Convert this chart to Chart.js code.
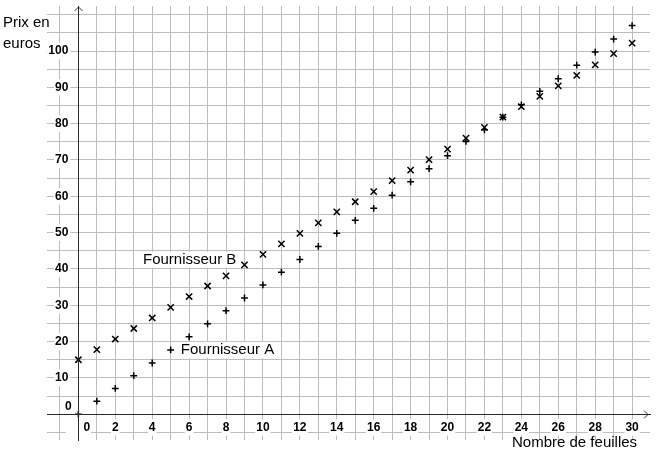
<!DOCTYPE html>
<html><head><meta charset="utf-8">
<script src="https://cdn.jsdelivr.net/npm/chart.js@4/dist/chart.umd.min.js"></script>
<style>html,body{margin:0;padding:0;background:#fff;} canvas{display:block;}</style>
</head><body>
<canvas id="c" width="660" height="456"></canvas>
<script>
const feuilles = [0,1,2,3,4,5,6,7,8,9,10,11,12,13,14,15,16,17,18,19,20,21,22,23,24,25,26,27,28,29,30];
const prixA = [0,3.6,7.1,10.6,14.1,17.7,21.3,24.9,28.5,32,35.6,39.1,42.6,46.2,49.8,53.4,56.7,60.3,64,67.6,71.2,75.1,78.3,81.8,85.2,88.9,92.4,96.1,99.7,103.3,107];
const prixB = [15,17.8,20.7,23.6,26.5,29.4,32.4,35.3,38.1,41.1,44,46.9,49.8,52.7,55.7,58.5,61.3,64.3,67.2,70.1,73,76,79,81.8,84.7,87.5,90.4,93.3,96.2,99.3,102.2];
const xTickLabels = ['0','2','4','6','8','10','12','14','16','18','20','22','24','26','28','30'];
const yTickLabels = ['0','10','20','30','40','50','60','70','80','90','100'];
const seriesNames = ['Fournisseur A','Fournisseur B'];
const xTitle = 'Nombre de feuilles';
const yTitle = ['Prix en','euros'];

const FONT = '"Liberation Sans", Arial, sans-serif';

function gridTicks(from, to, step) {
  const t = [];
  for (let v = from; v <= to; v += step) t.push({ value: v });
  return t;
}
function backdrop(ctx) {
  const t = ctx.tick;
  if (!t || Array.isArray(t.label) || !t.label) return 'rgba(255,255,255,0)';
  return '#fff';
}

const textPlugin = {
  id: 'texts',
  beforeDatasetsDraw(chart) {
    const {ctx, scales} = chart;
    ctx.save();
    ctx.font = '15px ' + FONT;
    ctx.textBaseline = 'middle';
    ctx.textAlign = 'left';
    const ann = [[seriesNames[1], 3.5, 42.5], [seriesNames[0], 5.55, 17.7]];
    ann.forEach(([t, xv, yv]) => {
      const px = scales.x.getPixelForValue(xv);
      const py = scales.y.getPixelForValue(yv);
      const w = ctx.measureText(t).width;
      ctx.fillStyle = '#fff';
      ctx.fillRect(px - 1, py - 8, w + 2, 16);
      ctx.fillStyle = '#000';
      ctx.fillText(t, px, py);
    });
    ctx.restore();
  },
  afterDraw(chart) {
    const {ctx, scales, chartArea} = chart;
    ctx.save();
    ctx.font = '15px ' + FONT;
    ctx.fillStyle = '#000';
    ctx.textBaseline = 'middle';
    ctx.textAlign = 'left';
    ctx.fillText(yTitle[0], 3, 23);
    ctx.fillText(yTitle[1], 3, 44);
    ctx.fillText(xTitle, 512, 443);
    const x0 = Math.round(scales.x.getPixelForValue(0)) + 0.5;
    const y0 = Math.round(scales.y.getPixelForValue(0)) + 0.5;
    ctx.strokeStyle = '#333';
    ctx.lineWidth = 1;
    ctx.beginPath();
    ctx.moveTo(x0 - 4, chartArea.top + 5);
    ctx.lineTo(x0, chartArea.top + 1);
    ctx.lineTo(x0 + 4, chartArea.top + 5);
    ctx.moveTo(chartArea.right - 6, y0 - 4);
    ctx.lineTo(chartArea.right - 2, y0);
    ctx.lineTo(chartArea.right - 6, y0 + 4);
    ctx.stroke();
    ctx.restore();
  }
};

new Chart(document.getElementById('c'), {
  type: 'scatter',
  data: {
    datasets: [
      { label: seriesNames[0], data: feuilles.map((x, i) => ({x, y: prixA[i]})),
        pointStyle: 'cross', pointRadius: 3.4, borderColor: '#000', backgroundColor: '#000', borderWidth: 1.5 },
      { label: seriesNames[1], data: feuilles.map((x, i) => ({x, y: prixB[i]})),
        pointStyle: 'crossRot', pointRadius: 4.4, borderColor: '#000', backgroundColor: '#000', borderWidth: 1.5 }
    ]
  },
  options: {
    responsive: false,
    animation: false,
    devicePixelRatio: 1,
    layout: { padding: { left: 47, right: 10, top: 6, bottom: 16 } },
    plugins: { legend: { display: false }, tooltip: { enabled: false } },
    events: [],
    scales: {
      x: {
        type: 'linear', position: { y: 0 }, min: -1.7, max: 30.97, bounds: 'data',
        afterBuildTicks(scale) { scale.ticks = gridTicks(-1, 30, 1); },
        grid: { color: '#bdbdbd', lineWidth: 1, drawTicks: false },
        border: { display: true, color: '#2a2a2a', width: 1, z: 1 },
        ticks: {
          autoSkip: false, maxRotation: 0, minRotation: 0, padding: 6,
          color: '#000', font: { family: FONT, size: 12, weight: 'bold' },
          showLabelBackdrop: true, backdropColor: backdrop, backdropPadding: 1,
          callback(v) {
            if (v >= 0 && v <= 30 && v % 2 === 0) {
              const s = xTickLabels[v / 2];
              return v === 0 ? '     ' + s : s;
            }
            return [];
          }
        }
      },
      y: {
        type: 'linear', position: { x: 0 }, min: -7.1, max: 112.4, bounds: 'data',
        afterBuildTicks(scale) { scale.ticks = gridTicks(-5, 110, 5); },
        grid: { color: '#bdbdbd', lineWidth: 1, drawTicks: false },
        border: { display: true, color: '#2a2a2a', width: 1, z: 1 },
        ticks: {
          autoSkip: false, padding: 0,
          color: '#000', font: { family: FONT, size: 12, weight: 'bold' },
          showLabelBackdrop: true, backdropColor: backdrop,
          backdropPadding: { top: 1, bottom: 1, left: 1, right: -8 },
          callback(v) {
            if (v >= 0 && v <= 100 && v % 10 === 0) {
              const s = yTickLabels[v / 10];
              return v === 0 ? [s + '  ', ''] : s + '   ';
            }
            return [];
          }
        }
      }
    }
  },
  plugins: [textPlugin]
});
</script>
</body></html>
